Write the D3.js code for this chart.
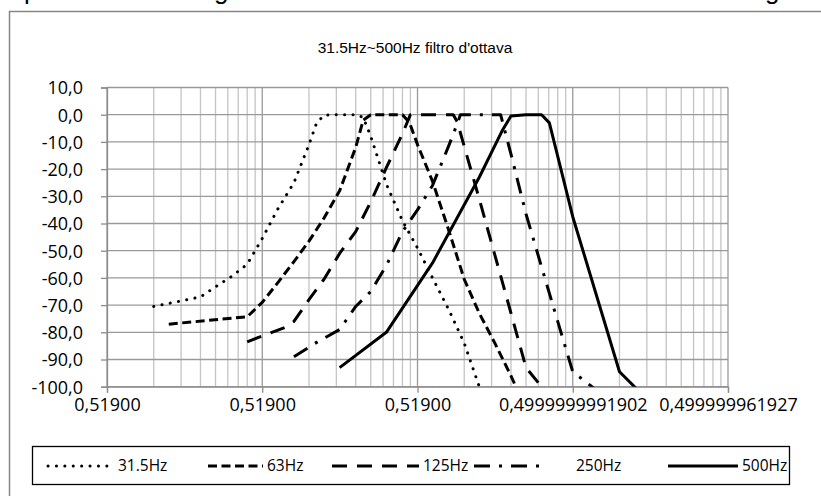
<!DOCTYPE html>
<html>
<head>
<meta charset="utf-8">
<script src="https://cdn.jsdelivr.net/npm/d3@7/dist/d3.min.js"></script>
<style>
  body { margin: 0; background: #fff; }
  svg { display: block; }
  text { font-family: "Open Sans", sans-serif; fill: #000; }
</style>
</head>
<body>
<div id="my_dataviz"></div>
<script>
// data (x = frequency in Hz, log axis)
var seriesNames = ["31.5Hz", "63Hz", "125Hz", "250Hz", "500Hz"];
var xTickValues = [1, 10, 100, 1000, 10000];
var xTickLabels = ["0,51900", "0,51900", "0,51900", "0,4999999991902", "0,499999961927"];
var yTickValues = [10, 0, -10, -20, -30, -40, -50, -60, -70, -80, -90, -100];

var freq31 = [2, 4, 5, 6.3, 8, 10, 12.5, 16, 20, 22.4, 25, 31.5, 40, 44.7, 50, 63, 80, 100, 125, 160, 200, 250];
var db31   = [-70.5, -67, -63.3, -59.6, -55, -45.5, -35, -25, -11, -3, -0.2, 0, 0, -1, -8, -25.5, -39, -49, -60, -72, -84, -100];

var freq63 = [2.5, 8, 10, 12.5, 16, 20, 25, 31.5, 40, 44.7, 50, 63, 80, 89, 100, 125, 160, 200, 250, 315, 400, 430];
var db63   = [-77, -74.3, -69, -62, -54, -46.5, -38, -28, -12, -2, 0, 0, 0, -3, -11, -24.5, -43, -60.5, -73, -84, -96, -100];

var freq125 = [8, 14, 16, 20, 25, 31.5, 40, 50, 63, 80, 90, 125, 170, 180, 250, 354, 500, 630];
var db125   = [-83.5, -78.2, -76, -68, -60.5, -51, -43, -32, -19.5, -7, 0, 0, 0, -2.5, -31, -62, -93, -100];

var freq250 = [16, 22.4, 31.5, 40, 50, 63, 80, 100, 125, 160, 177, 189, 250, 343, 400, 500, 630, 800, 1000, 1400];
var db250   = [-89, -83.7, -79, -70.5, -65, -55.5, -43, -35, -26, -11, -4.5, 0, 0, 0, -14.5, -36.5, -56, -76, -94.5, -101];

var freq500 = [31.5, 63, 125, 250, 354, 400, 500, 630, 707, 1000, 2000, 2600];
var db500   = [-93, -80, -54.5, -23, -5.5, -0.5, 0, 0, -3, -37.5, -94.5, -101];

var series = [
  {name: seriesNames[0], f: freq31,  v: db31,  dash: "0.1,8.3",  cap: "round"},
  {name: seriesNames[1], f: freq63,  v: db63,  dash: "9,4.5",    cap: "butt"},
  {name: seriesNames[2], f: freq125, v: db125, dash: "15,10",    cap: "butt"},
  {name: seriesNames[3], f: freq250, v: db250, dash: "16,9,3,9", cap: "butt"},
  {name: seriesNames[4], f: freq500, v: db500, dash: null,       cap: "butt"}
];

var W = 821, H = 496;
var plot = {left: 107, right: 728, top: 87.5, bottom: 386.7};

var svg = d3.select("#my_dataviz").append("svg")
  .attr("width", W).attr("height", H);

// chart frame (cut off on right and bottom like the original)
svg.append("rect")
  .attr("x", 9.5).attr("y", 11.5).attr("width", W + 20).attr("height", H + 20)
  .attr("fill", "#fff").attr("stroke", "#868686").attr("stroke-width", 1.5);

// descenders of the cropped text line above the chart
svg.append("g").selectAll("text")
  .data([{t: "p", x: 24}, {t: "g", x: 214}, {t: "g", x: 765}])
  .enter().append("text")
    .attr("x", function(d) { return d.x; })
    .attr("y", -1)
    .style("font-family", "Liberation Sans, Arial, sans-serif")
    .style("font-size", "26px")
    .text(function(d) { return d.t; });

var x = d3.scaleLog().domain([1, 10000]).range([plot.left, plot.right]);
var y = d3.scaleLinear().domain([-100, 10]).range([plot.bottom, plot.top]);

// minor vertical gridlines
var minor = [];
for (var e = 0; e < 4; e++) {
  for (var k = 2; k <= 9; k++) minor.push(k * Math.pow(10, e));
}
svg.append("g").selectAll("line")
  .data(minor).enter().append("line")
    .attr("x1", function(d) { return x(d); }).attr("x2", function(d) { return x(d); })
    .attr("y1", plot.top).attr("y2", plot.bottom)
    .attr("stroke", "#c4c4c4").attr("stroke-width", 1.3);

// major vertical gridlines
svg.append("g").selectAll("line")
  .data(xTickValues).enter().append("line")
    .attr("x1", function(d) { return x(d); }).attr("x2", function(d) { return x(d); })
    .attr("y1", plot.top).attr("y2", plot.bottom)
    .attr("stroke", "#9a9a9a").attr("stroke-width", 1.3);

// horizontal gridlines
svg.append("g").selectAll("line")
  .data(yTickValues).enter().append("line")
    .attr("x1", plot.left).attr("x2", plot.right)
    .attr("y1", function(d) { return y(d); }).attr("y2", function(d) { return y(d); })
    .attr("stroke", "#9a9a9a").attr("stroke-width", 1.3);

// y axis
var yAxis = svg.append("g")
  .attr("transform", "translate(" + plot.left + ",0)")
  .call(d3.axisLeft(y).tickValues(yTickValues).tickSize(6).tickPadding(18)
    .tickFormat(function(d) { return (d < 0 ? "-" : "") + Math.abs(d).toFixed(1).replace(".", ","); }));
yAxis.select(".domain").attr("stroke", "#8c8c8c").attr("stroke-width", 1.3);
yAxis.selectAll(".tick line").attr("stroke", "#8c8c8c").attr("stroke-width", 1.3);
yAxis.selectAll("text").style("font-size", "18px").attr("dy", "0.36em");

// x axis
var xAxis = svg.append("g")
  .attr("transform", "translate(0," + plot.bottom + ")")
  .call(d3.axisBottom(x).tickValues(xTickValues).tickSize(6).tickPadding(6)
    .tickFormat(function(d, i) { return xTickLabels[i]; }));
xAxis.select(".domain").attr("stroke", "#8c8c8c").attr("stroke-width", 1.3);
xAxis.selectAll(".tick line").attr("stroke", "#8c8c8c").attr("stroke-width", 1.3);
xAxis.selectAll("text").style("font-size", "18px");

// title
svg.append("text")
  .attr("x", 415).attr("y", 53)
  .attr("text-anchor", "middle")
  .style("font-family", "Liberation Sans, Arial, sans-serif")
  .style("font-size", "15.5px")
  .text("31.5Hz~500Hz filtro d'ottava");

// curves
svg.append("clipPath").attr("id", "plotclip")
  .append("rect").attr("x", plot.left).attr("y", plot.top - 5)
  .attr("width", plot.right - plot.left).attr("height", plot.bottom - plot.top + 5);

var line = d3.line()
  .x(function(d) { return x(d[0]); })
  .y(function(d) { return y(d[1]); });

svg.append("g").attr("clip-path", "url(#plotclip)")
  .selectAll("path").data(series).enter().append("path")
    .attr("d", function(s) { return line(d3.zip(s.f, s.v)); })
    .attr("fill", "none").attr("stroke", "#000").attr("stroke-width", 3)
    .attr("stroke-linejoin", "round")
    .attr("stroke-linecap", function(s) { return s.cap; })
    .attr("stroke-dasharray", function(s) { return s.dash; });

// legend
var lg = svg.append("g");
lg.append("rect").attr("x", 32.5).attr("y", 446.5).attr("width", 757).attr("height", 38)
  .attr("fill", "#fff").attr("stroke", "#000").attr("stroke-width", 1.3);
var legLineX = [[48, 114], [208, 263], [332, 419], [474, 540], [668, 738]];
var legTextX = [118, 267, 423, 576, 742];
var items = lg.selectAll("g.item").data(series).enter().append("g")
  .attr("transform", "translate(0,466)");
items.append("line")
  .attr("x1", function(s, i) { return legLineX[i][0]; })
  .attr("x2", function(s, i) { return legLineX[i][1]; })
  .attr("y1", 0).attr("y2", 0)
  .attr("stroke", "#000").attr("stroke-width", 3)
  .attr("stroke-linecap", function(s) { return s.cap; })
  .attr("stroke-dasharray", function(s) { return s.dash; });
items.append("text")
  .attr("x", function(s, i) { return legTextX[i]; })
  .attr("y", 0).attr("dy", "0.35em")
  .style("font-size", "15.5px")
  .text(function(s) { return s.name; });
</script>
</body>
</html>
